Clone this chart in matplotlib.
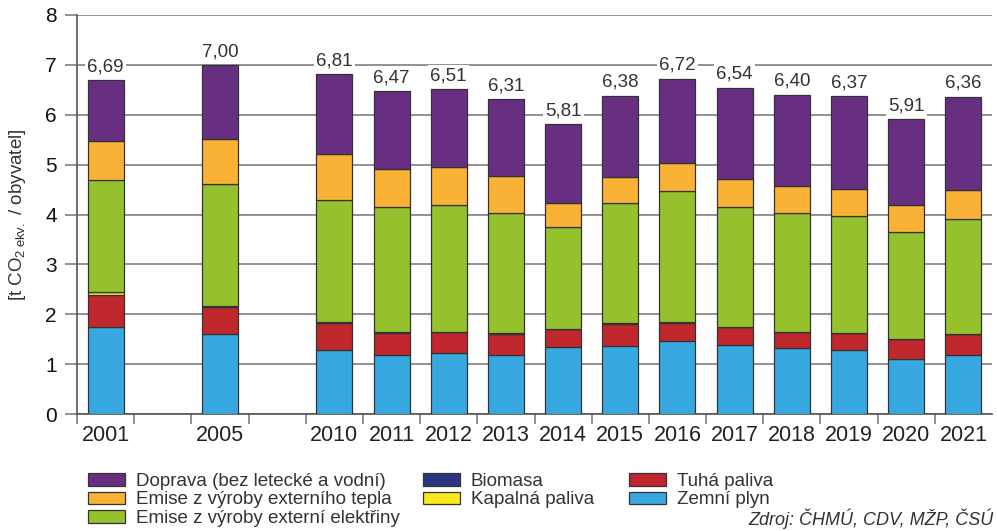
import numpy as np
import matplotlib
matplotlib.use("Agg")
import matplotlib.pyplot as plt
from matplotlib.ticker import FixedLocator

plt.rcParams['font.family'] = ['Liberation Sans', 'DejaVu Sans']
plt.rcParams['mathtext.fontset'] = 'custom'
plt.rcParams['mathtext.rm'] = 'Liberation Sans'

# data (t CO2 ekv. per capita)
years = ["2001", "2005", "2010", "2011", "2012", "2013", "2014", "2015",
         "2016", "2017", "2018", "2019", "2020", "2021"]
zemni_plyn = [1.75, 1.60, 1.28, 1.18, 1.22, 1.19, 1.34, 1.36, 1.47, 1.39, 1.32, 1.28, 1.10, 1.18]
tuha_paliva = [0.63, 0.55, 0.55, 0.45, 0.42, 0.42, 0.36, 0.45, 0.36, 0.35, 0.32, 0.34, 0.40, 0.42]
kapalna_paliva = [0.06, 0.02, 0.01, 0.01, 0.01, 0.01, 0.01, 0.01, 0.01, 0.01, 0.01, 0.01, 0.01, 0.01]
biomasa = [0.0, 0.0, 0.0, 0.0, 0.0, 0.0, 0.0, 0.0, 0.0, 0.0, 0.0, 0.0, 0.0, 0.0]
elektrina = [2.26, 2.45, 2.46, 2.52, 2.54, 2.41, 2.03, 2.41, 2.64, 2.41, 2.39, 2.33, 2.14, 2.29]
teplo = [0.77, 0.90, 0.92, 0.75, 0.77, 0.75, 0.50, 0.53, 0.56, 0.56, 0.54, 0.55, 0.54, 0.60]
doprava = [1.22, 1.48, 1.59, 1.56, 1.55, 1.53, 1.57, 1.62, 1.68, 1.82, 1.82, 1.86, 1.72, 1.86]

# stacking order bottom -> top
series = [
    ("Zemní plyn", zemni_plyn, "#38a9e0"),
    ("Tuhá paliva", tuha_paliva, "#c0272d"),
    ("Kapalná paliva", kapalna_paliva, "#fbe81c"),
    ("Biomasa", biomasa, "#2e3580"),
    ("Emise z výroby externí elektřiny", elektrina, "#95c12d"),
    ("Emise z výroby externího tepla", teplo, "#f9b236"),
    ("Doprava (bez letecké a vodní)", doprava, "#682e82"),
]

# gaps after 2001 and 2005
x = np.array([0, 2] + list(range(4, 16)))

fig = plt.figure(figsize=(9.97, 5.31), dpi=100)
ax = fig.add_axes([77 / 997, 1 - 414 / 531, (992 - 77) / 997, (414 - 15) / 531])

bottom = np.zeros(len(years))
handles = {}
for name, vals, color in series:
    vals = np.array(vals)
    b = ax.bar(x, vals, width=0.63, bottom=bottom, color=color,
               edgecolor="#333333", linewidth=0.9, zorder=3, label=name)
    handles[name] = b
    bottom = bottom + vals

# totals above bars
for xi, tot in zip(x, bottom):
    ax.annotate(f"{tot:.2f}".replace(".", ","), (xi, tot), xytext=(0, 3.5),
                textcoords="offset points", ha="center", va="bottom",
                fontsize=13.5, color="#333333", zorder=4,
                bbox=dict(boxstyle="square,pad=0.12", fc="white", ec="none"))

ax.set_xlim(-0.5, 15.5)
ax.set_ylim(0, 8)
ax.set_yticks(range(0, 9))
ax.yaxis.grid(True, color="#7f7f7f", linewidth=1.2, zorder=0)
ax.set_axisbelow(True)

ax.set_xticks(x)
ax.set_xticklabels(years)
ax.xaxis.set_minor_locator(FixedLocator(np.arange(-0.5, 15, 1.0)))
ax.tick_params(axis="x", which="major", length=0, pad=8, labelsize=15.5, labelcolor="#222222")
ax.tick_params(axis="x", which="minor", length=7, width=1.2, color="#7f7f7f", direction="out")
ax.tick_params(axis="y", length=8.5, width=1.2, color="#7f7f7f", pad=6,
               labelsize=15, labelcolor="#111111")

for s in ["top", "right"]:
    ax.spines[s].set_visible(False)
ax.spines["left"].set_color("#555555")
ax.spines["bottom"].set_color("#555555")
ax.spines["left"].set_linewidth(1.2)
ax.spines["bottom"].set_linewidth(1.2)

ax.set_ylabel(r"[t CO$_2$$_{\,\mathrm{ekv.}}$ / obyvatel]", fontsize=13.5, color="#333333")
ax.yaxis.set_label_coords(-0.054, 0.5)

# legend in three columns
legend_cols = [
    (["Doprava (bez letecké a vodní)", "Emise z výroby externího tepla",
      "Emise z výroby externí elektřiny"], 88),
    (["Biomasa", "Kapalná paliva"], 423),
    (["Tuhá paliva", "Zemní plyn"], 629),
]
for names, px in legend_cols:
    leg = fig.legend([handles[n] for n in names], names, loc="upper left",
                     bbox_to_anchor=(px / 997, 1 - 473 / 531), frameon=False,
                     fontsize=13.5, handlelength=1.95, handleheight=0.65,
                     handletextpad=0.6, labelspacing=0.08, borderpad=0,
                     borderaxespad=0)
    for t in leg.get_texts():
        t.set_color("#333333")

fig.text(0.997, 0.003, "Zdroj: ČHMÚ, CDV, MŽP, ČSÚ", ha="right", va="bottom",
         fontsize=13, style="italic", color="#333333")

fig.savefig("out.png", dpi=100)
